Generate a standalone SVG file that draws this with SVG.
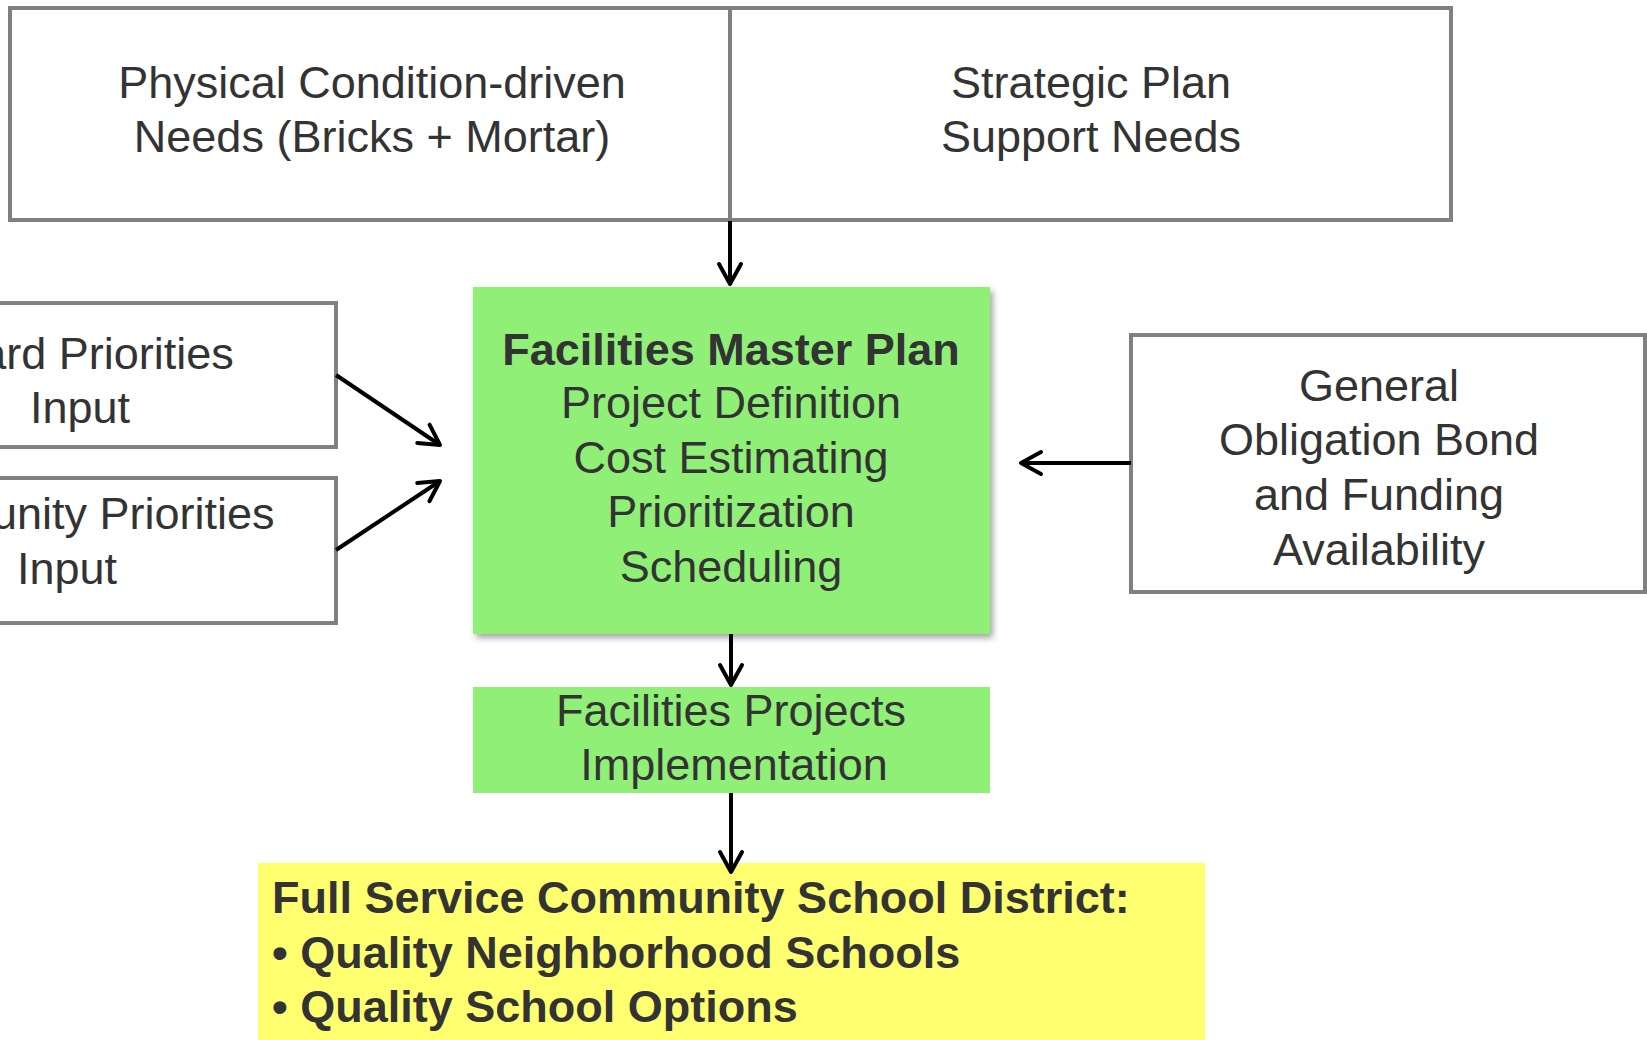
<svg xmlns="http://www.w3.org/2000/svg" width="1647" height="1040" viewBox="0 0 1647 1040">
<style>
.box{fill:#ffffff;stroke:#808080;stroke-width:4}
.t{font-family:"Liberation Sans",Arial,sans-serif;font-size:45px;fill:#333333;text-anchor:middle}
.b{font-weight:bold}
.con{stroke:#000;stroke-width:4;fill:none;marker-end:url(#ah)}
</style>
<defs>
<marker id="ah" markerUnits="userSpaceOnUse" markerWidth="32" markerHeight="32" viewBox="0 0 32 32" refX="26" refY="16" orient="auto">
<path d="M6,5 L26,16 L6,27" fill="none" stroke="#000" stroke-width="4" stroke-linecap="round" stroke-linejoin="round"/>
</marker>
<filter id="sh" x="-5%" y="-5%" width="115%" height="115%">
<feDropShadow dx="3" dy="4" stdDeviation="3" flood-color="#000" flood-opacity="0.35"/>
</filter>
</defs>
<rect width="1647" height="1040" fill="#ffffff"/>

<g id="physical">
<rect class="box" x="10" y="8" width="720" height="212"/>
<text class="t" x="372" y="98">Physical Condition-driven</text>
<text class="t" x="372" y="152">Needs (Bricks + Mortar)</text>
</g>
<g id="strategic">
<rect class="box" x="730" y="8" width="721" height="212"/>
<text class="t" x="1091" y="98">Strategic Plan</text>
<text class="t" x="1091" y="152">Support Needs</text>
</g>

<g id="board">
<rect class="box" x="-180" y="303" width="516" height="144"/>
<text class="t" x="80" y="369">Board Priorities</text>
<text class="t" x="80" y="423">Input</text>
</g>
<g id="community">
<rect class="box" x="-180" y="478" width="516" height="145"/>
<text class="t" x="67" y="529">Community Priorities</text>
<text class="t" x="67" y="584">Input</text>
</g>

<g id="masterplan">
<rect x="473" y="287" width="517" height="347" fill="#8fef77" filter="url(#sh)"/>
<text class="t b" x="731" y="365">Facilities Master Plan</text>
<text class="t" x="731" y="418">Project Definition</text>
<text class="t" x="731" y="473">Cost Estimating</text>
<text class="t" x="731" y="527">Prioritization</text>
<text class="t" x="731" y="582">Scheduling</text>
</g>

<g id="bond">
<rect class="box" x="1131" y="335" width="514" height="257"/>
<text class="t" x="1379" y="401">General</text>
<text class="t" x="1379" y="455">Obligation Bond</text>
<text class="t" x="1379" y="510">and Funding</text>
<text class="t" x="1379" y="565">Availability</text>
</g>

<g id="implementation">
<rect x="473" y="687" width="517" height="106" fill="#8fef77"/>
<text class="t" x="731" y="726">Facilities Projects</text>
<text class="t" x="734" y="780">Implementation</text>
</g>

<g id="district">
<rect x="258" y="863" width="947" height="177" fill="#ffff70"/>
<text class="t b" x="272" y="913" text-anchor="start" style="text-anchor:start">Full Service Community School District:</text>
<text class="t b" x="272" y="968" style="text-anchor:start">• Quality Neighborhood Schools</text>
<text class="t b" x="272" y="1022" style="text-anchor:start">• Quality School Options</text>
</g>

<g id="connectors">
<path class="con" d="M730,221 L730,284"/>
<path class="con" d="M336,375 L440,445"/>
<path class="con" d="M336,550 L440,481"/>
<path class="con" d="M1131,463 L1021,463"/>
<path class="con" d="M731,634 L731,685"/>
<path class="con" d="M731,793 L731,872"/>
</g>
</svg>
